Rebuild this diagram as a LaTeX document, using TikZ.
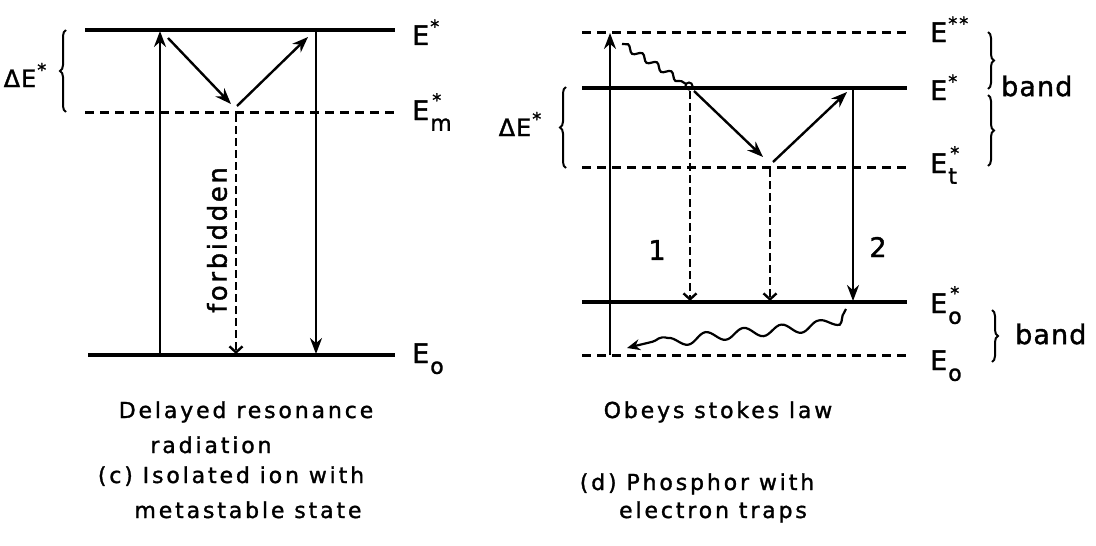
\documentclass[tikz,border=0pt]{standalone}
\usepackage{fontspec}
\setmainfont{DejaVu Sans}
\newfontfamily\capfont{DejaVu Sans}[LetterSpace=13,FakeBold=1.4]
\newfontfamily\labfont{DejaVu Sans}[LetterSpace=4,FakeBold=1.4]
\newfontfamily\forbfont{DejaVu Sans}[LetterSpace=10,FakeBold=1.4]
\usetikzlibrary{arrows.meta,decorations.pathmorphing,decorations.pathreplacing}
\newcommand\Estar{E\kern1pt\raisebox{0.45em}{\fontsize{18}{18}\selectfont *}}
\newcommand\Estarstar{E\kern1pt\raisebox{0.45em}{\fontsize{18}{18}\selectfont *\kern2pt*}}
\newcommand\Esubsup[1]{E\kern1pt\rlap{\raisebox{0.5em}{\fontsize{18}{18}\selectfont\kern2pt *}}\raisebox{-0.4em}{\fontsize{22}{22}\selectfont #1}}
\newcommand\Esub[1]{E\kern1pt\raisebox{-0.4em}{\fontsize{22}{22}\selectfont #1}}
\begin{document}
\begin{tikzpicture}[x=1pt,y=-1pt,
  lvl/.style={line width=3.6pt},
  dlvl/.style={line width=3pt,dash pattern=on 9pt off 6pt},
  sarr/.style={line width=2.4pt,-{Stealth[length=16pt,width=12pt]}},
  darr/.style={line width=2.4pt,dash pattern=on 8pt off 4pt,-{Straight Barb[length=6pt,width=13pt,line width=2.4pt]}},
  brc/.style={decorate,decoration={brace,amplitude=6pt},line width=2pt},
  wav/.style={decorate,decoration={snake,amplitude=3pt,segment length=17pt},line width=2.2pt},
  lab/.style={font=\labfont\fontsize{27}{30}\selectfont,inner sep=0pt},
  captxt/.style={font=\capfont\fontsize{22}{24}\selectfont,inner sep=0pt,anchor=base}
]
\useasboundingbox (0,0) rectangle (1096,546);

% ---------------- left diagram (c) ----------------
\coordinate (LEa) at (85,30);  \coordinate (LEb) at (395,30);
\coordinate (LMa) at (85,112); \coordinate (LMb) at (395,112);
\coordinate (LOa) at (88,355); \coordinate (LOb) at (395,355);
\draw[lvl] (LEa) -- (LEb);
\draw[dlvl] (LMa) -- (LMb);
\draw[lvl] (LOa) -- (LOb);

\coordinate (Lup0) at (160,355); \coordinate (Lup1) at (160,31);
\draw[sarr] (Lup0) -- (Lup1);
\coordinate (Ldn0) at (316,31); \coordinate (Ldn1) at (316,354);
\draw[sarr] (Ldn0) -- (Ldn1);
\coordinate (Ld0) at (168,38); \coordinate (Ld1) at (231,104);
\draw[sarr] (Ld0) -- (Ld1);
\coordinate (Lu0) at (237,106); \coordinate (Lu1) at (308,37);
\draw[sarr] (Lu0) -- (Lu1);
\coordinate (Lf0) at (236,114); \coordinate (Lf1) at (236,354);
\draw[darr] (Lf0) -- (Lf1);
\node[font=\forbfont\fontsize{26}{30}\selectfont,rotate=90,inner sep=0pt] (forb) at (217,240) {forbidden};

\coordinate (Lb0) at (66,112); \coordinate (Lb1) at (66,30);
\draw[brc] (Lb0) -- (Lb1);
\node[lab,font=\labfont\fontsize{24}{26}\selectfont] (LdE) at (25,75) {Δ\Estar};

\node[lab,anchor=base west] (LlE) at (412,45) {\Estar};
\node[lab,anchor=base west] (LlM) at (412,120) {\Esubsup{m}};
\node[lab,anchor=base west] (LlO) at (412,363) {\Esub{o}};

\node[captxt] (c1) at (246,418) {Delayed resonance};
\node[captxt] (c2) at (211,453) {radiation};
\node[captxt] (c3) at (231,483) {(c) Isolated ion with};
\node[captxt] (c4) at (248,518) {metastable state};

% ---------------- right diagram (d) ----------------
\coordinate (RSa) at (582,32);  \coordinate (RSb) at (907,32);
\coordinate (REa) at (582,88);  \coordinate (REb) at (907,88);
\coordinate (RTa) at (582,167); \coordinate (RTb) at (907,167);
\coordinate (ROa) at (582,302); \coordinate (ROb) at (907,302);
\coordinate (RZa) at (582,355); \coordinate (RZb) at (907,355);
\draw[dlvl] (RSa) -- (RSb);
\draw[lvl] (REa) -- (REb);
\draw[dlvl] (RTa) -- (RTb);
\draw[lvl] (ROa) -- (ROb);
\draw[dlvl] (RZa) -- (RZb);

\coordinate (Rup0) at (610,355); \coordinate (Rup1) at (610,33);
\draw[sarr] (Rup0) -- (Rup1);
\coordinate (Rw0) at (622,44); \coordinate (Rw1) at (686,84);
\draw[wav] (Rw0) -- (Rw1);
\node[circle,draw,line width=2pt,inner sep=0pt,minimum size=7pt] (Rloop) at (689,86) {};
\coordinate (R10) at (690,91); \coordinate (R11) at (690,301);
\draw[darr] (R10) -- (R11);
\node[lab] (n1) at (657,250) {1};
\coordinate (Rd0) at (694,91); \coordinate (Rd1) at (763,157);
\draw[sarr] (Rd0) -- (Rd1);
\coordinate (Ru0) at (773,162); \coordinate (Ru1) at (847,92);
\draw[sarr] (Ru0) -- (Ru1);
\coordinate (Rm0) at (770,169); \coordinate (Rm1) at (770,301);
\draw[darr] (Rm0) -- (Rm1);
\coordinate (R20) at (853,89); \coordinate (R21) at (853,301);
\draw[sarr] (R20) -- (R21);
\node[lab] (n2) at (878,247) {2};
\coordinate (Rv0) at (846,309); \coordinate (Rv1) at (627,348);
\draw[decorate,decoration={snake,amplitude=5pt,segment length=38pt,pre length=4pt,post length=8pt},line width=2.2pt,-{Stealth[length=13pt,width=11pt]}]
  (Rv0) .. controls (842,330) and (740,318) .. (Rv1);

\coordinate (Rb0) at (566,168); \coordinate (Rb1) at (566,87);
\draw[brc] (Rb0) -- (Rb1);
\node[lab,font=\labfont\fontsize{24}{26}\selectfont] (RdE) at (520,124) {Δ\Estar};

\node[lab,anchor=base west] (RlS) at (930,42) {\Estarstar};
\node[lab,anchor=base west] (RlE) at (930,100) {\Estar};
\node[lab,anchor=base west] (RlT) at (930,173) {\Esubsup{t}};
\node[lab,anchor=base west] (RlO) at (930,313) {\Esubsup{o}};
\node[lab,anchor=base west] (RlZ) at (930,370) {\Esub{o}};

\coordinate (Bu0) at (988,32); \coordinate (Bu1) at (988,89);
\draw[brc] (Bu0) -- (Bu1);
\coordinate (Bm0) at (988,95); \coordinate (Bm1) at (988,166);
\draw[brc] (Bm0) -- (Bm1);
\coordinate (Bl0) at (992,310); \coordinate (Bl1) at (992,362);
\draw[brc] (Bl0) -- (Bl1);
\node[lab,anchor=west] (band1) at (1001,86) {band};
\node[lab,anchor=west] (band2) at (1015,334) {band};

\node[captxt] (d1) at (718,418) {Obeys stokes law};
\node[captxt] (d2) at (697,490) {(d) Phosphor with};
\node[captxt] (d3) at (713,518) {electron traps};
\end{tikzpicture}
\end{document}
